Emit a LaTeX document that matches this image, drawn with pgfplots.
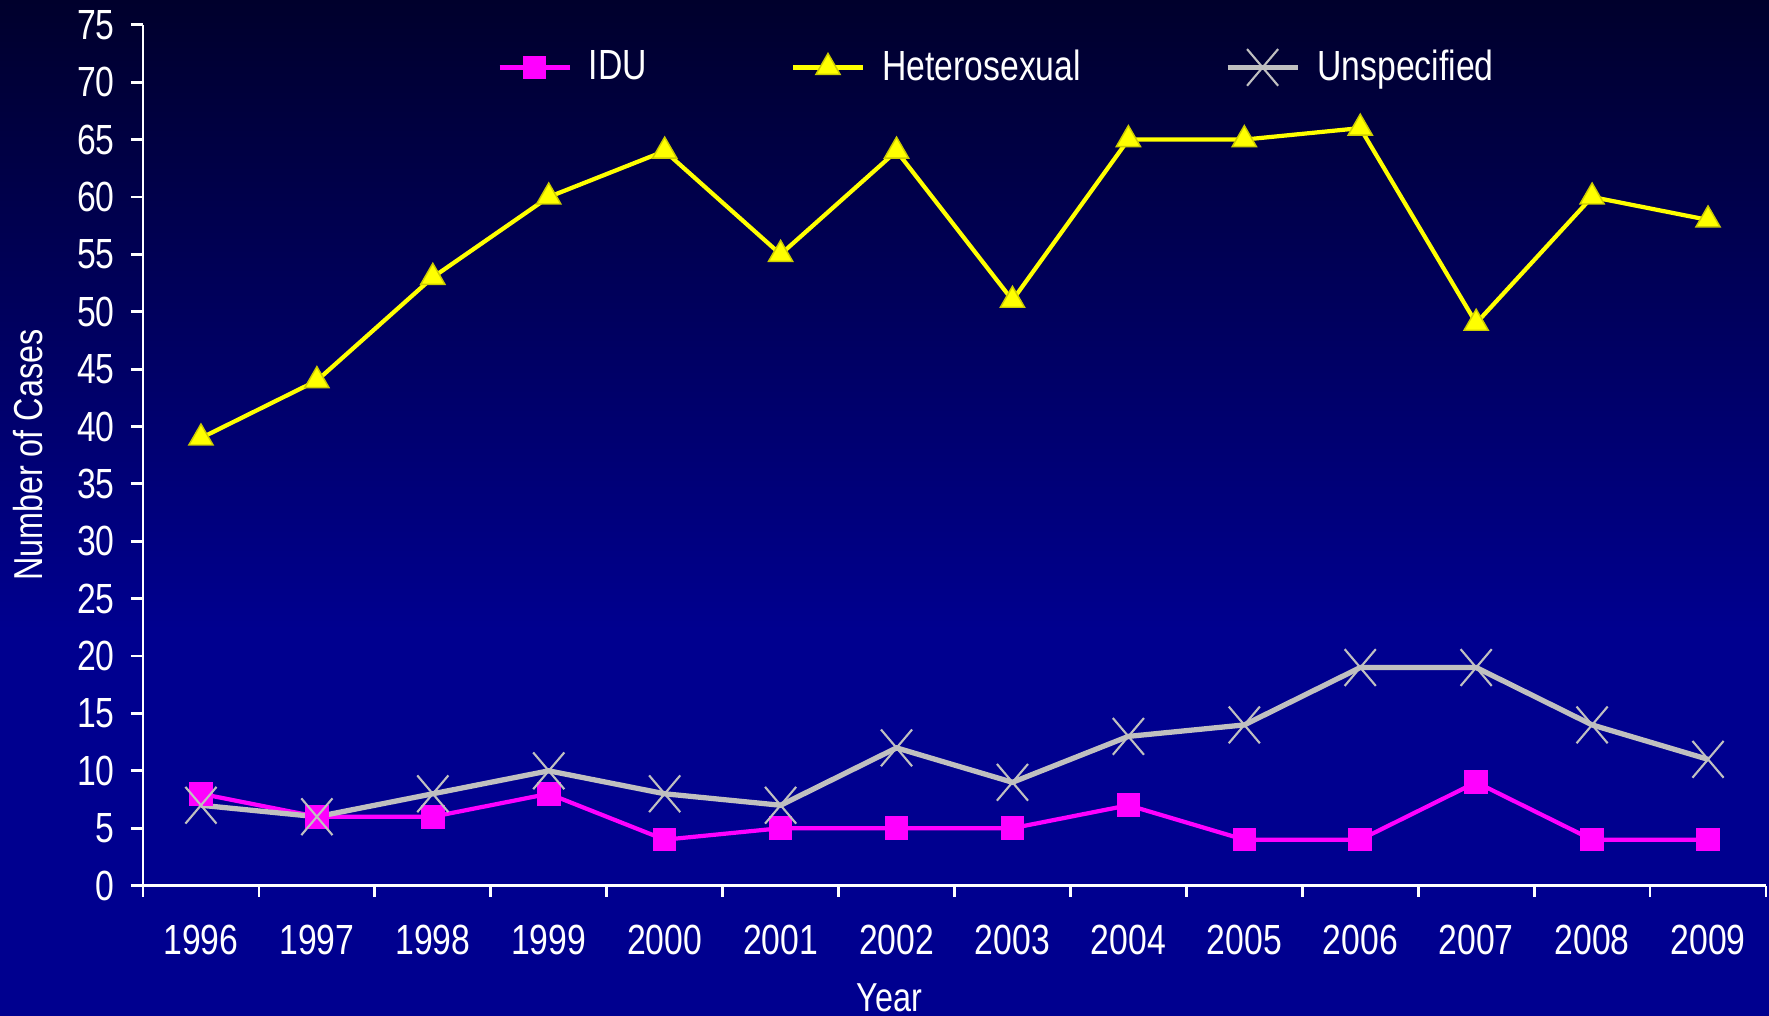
\documentclass[border=0pt]{standalone}
\usepackage{fontspec}
\setmainfont{Liberation Sans}[FakeStretch=0.8]
\usepackage{pgfplots}
\pgfplotsset{compat=1.18}

\definecolor{bgtop}{HTML}{00002C}
\definecolor{bgbot}{HTML}{00008F}
\definecolor{idu}{HTML}{FF00FF}
\definecolor{het}{HTML}{FFFF00}
\definecolor{unsp}{HTML}{C0C0C0}
\pgfdeclareverticalshading{bg}{100bp}{color(0bp)=(bgbot); color(44bp)=(bgbot); color(75bp)=(bgtop); color(100bp)=(bgtop)}

\begin{document}
\begin{tikzpicture}
\shade[shading=bg] (0,0) rectangle (17.69,10.16);
\begin{axis}[
at={(1.43cm,1.304cm)}, anchor=south west,
scale only axis,
width=16.23cm, height=8.608cm,
xmin=0.5, xmax=14.5, ymin=0, ymax=75,
axis lines=left,
axis line style={white, line width=0.8pt, -},
tick style={white, line width=0.8pt},
tick align=outside,
xtick={1,...,14},
xticklabels={1996,1997,1998,1999,2000,2001,2002,2003,2004,2005,2006,2007,2008,2009},
major x tick style={draw=none},
minor xtick={0.5,1.5,...,14.5},
minor tick length=0.11cm,
major tick length=0.12cm,
ytick={0,5,...,75},
/pgf/number format/assume math mode=true,
ticklabel style={font=\fontsize{12}{14}\selectfont, text=white},
xticklabel style={anchor=north, yshift=-0.15cm},
yticklabel style={xshift=-0.04cm},
clip=false,
legend columns=3,
legend style={at={(axis description cs:0.218,0.9505)}, anchor=west, draw=none, fill=none,
  inner sep=0pt, text=white, font=\fontsize{12}{14}\selectfont,
  /tikz/every odd column/.append style={column sep=0.1cm},
  /tikz/every even column/.append style={column sep=1.37cm}},
legend image code/.code={\draw[mark repeat=2,mark phase=2] plot coordinates {(0cm,0cm) (0.35cm,0cm) (0.7cm,0cm)};},
]
\addplot[idu, line width=1.2pt, mark=square*, mark size=0.97mm, mark options={solid}] coordinates {
(1,8) (2,6) (3,6) (4,8) (5,4) (6,5) (7,5) (8,5) (9,7) (10,4) (11,4) (12,9) (13,4) (14,4)};
\addlegendentry{IDU}
\addplot[het, line width=1.2pt, mark=triangle*, mark size=1.4mm, mark options={solid, draw=het!80!black, line width=0.4pt, fill=het}] coordinates {
(1,39) (2,44) (3,53) (4,60) (5,64) (6,55) (7,64) (8,51) (9,65) (10,65) (11,66) (12,49) (13,60) (14,58)};
\addlegendentry{Heterosexual}
\addplot[unsp, line width=1.5pt, mark=x, mark size=2.2mm, mark options={solid, line width=0.6pt, yscale=1.18}] coordinates {
(1,7) (2,6) (3,8) (4,10) (5,8) (6,7) (7,12) (8,9) (9,13) (10,14) (11,19) (12,19) (13,14) (14,11)};
\addlegendentry{Unspecified}
\node[white, rotate=90, font=\fontsize{11.5}{14}\selectfont] at (axis description cs:-0.071,0.5) {Number of Cases};
\node[white, font=\fontsize{11.5}{14}\selectfont] at (axis description cs:0.46,-0.1306) {Year};
\end{axis}
\pgfresetboundingbox
\useasboundingbox (0,0) rectangle (17.69,10.16);
\end{tikzpicture}
\end{document}
